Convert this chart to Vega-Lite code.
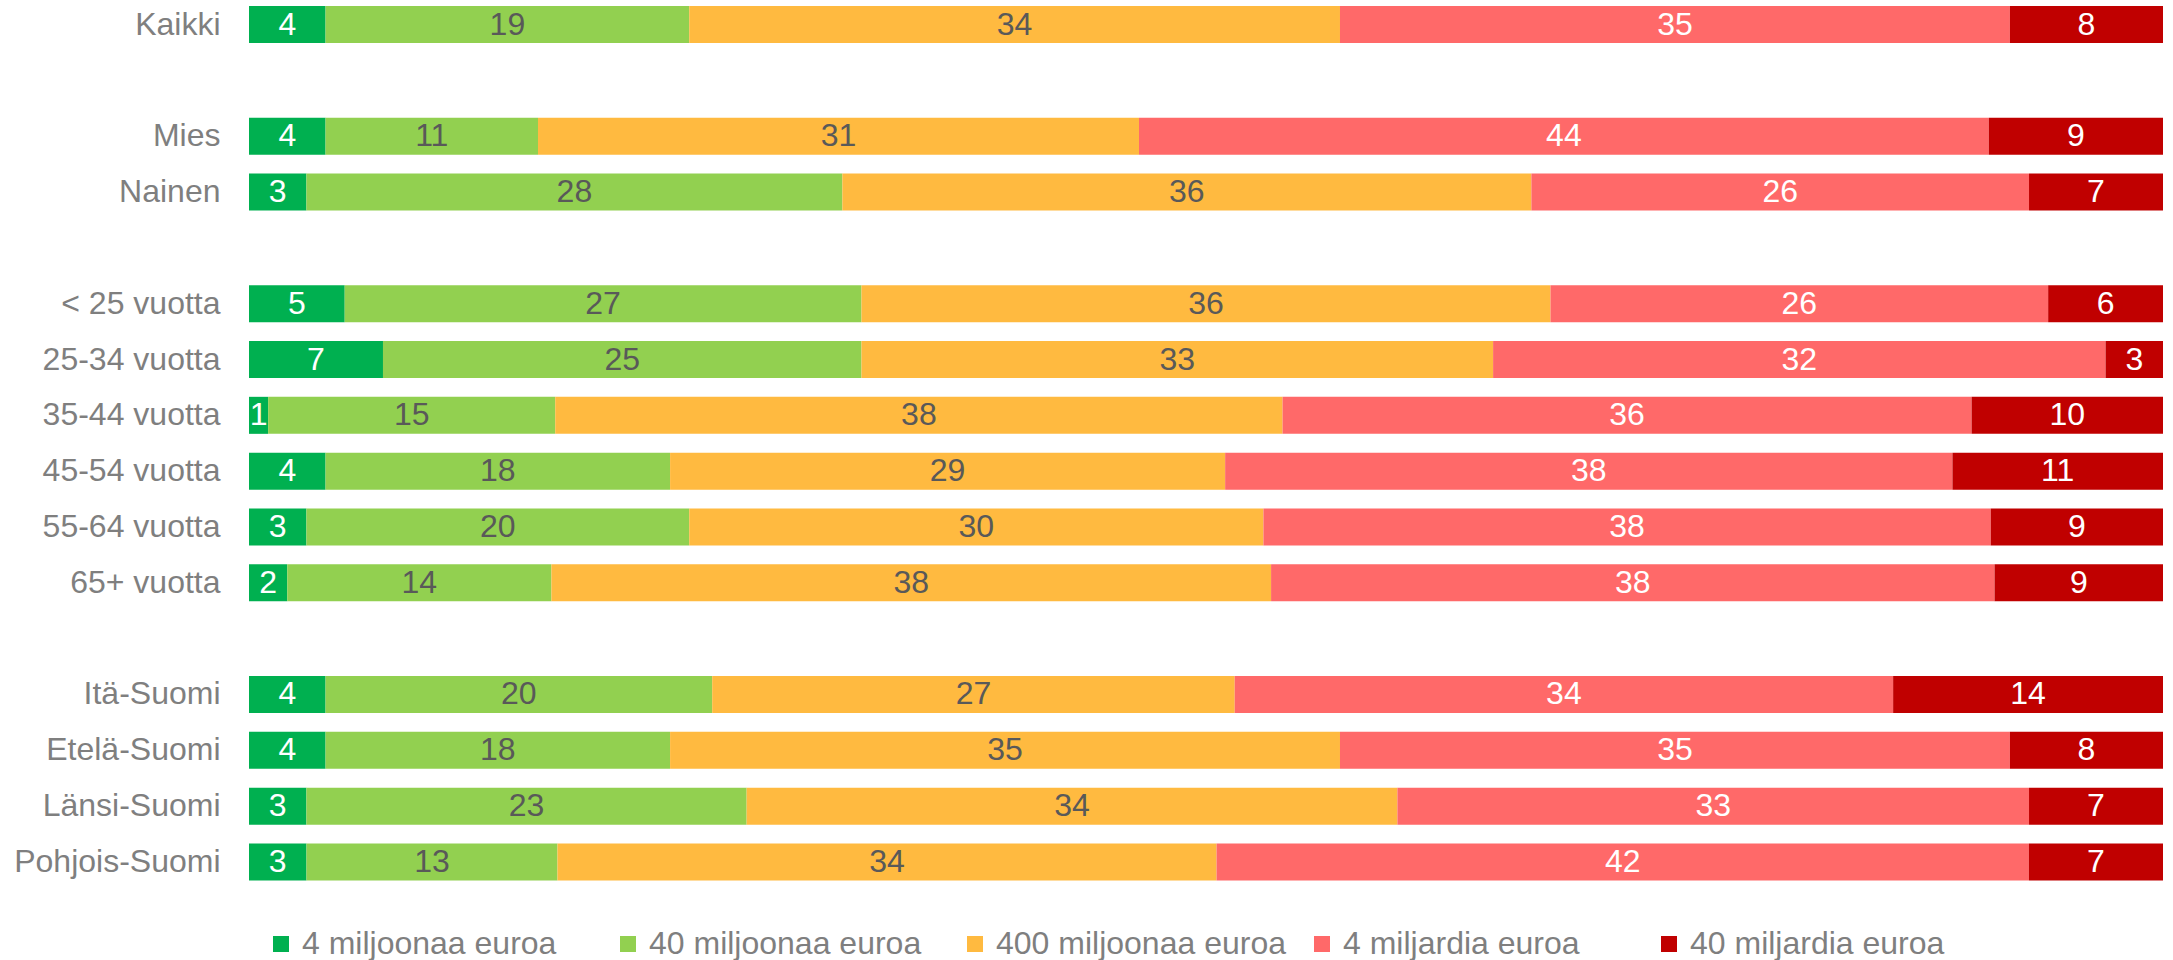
{
  "$schema": "https://vega.github.io/schema/vega-lite/v6.json",
  "autosize": "none",
  "width": 1914,
  "height": 874.5,
  "padding": {"left": 249, "top": 6, "right": 10, "bottom": 80},
  "background": "white",
  "config": {"view": {"stroke": null}, "font": "Liberation Sans"},
  "data": {"values": [
    {"group": "Kaikki", "cat": "4 miljoonaa euroa", "k": 1, "v": 4},
    {"group": "Kaikki", "cat": "40 miljoonaa euroa", "k": 2, "v": 19},
    {"group": "Kaikki", "cat": "400 miljoonaa euroa", "k": 3, "v": 34},
    {"group": "Kaikki", "cat": "4 miljardia euroa", "k": 4, "v": 35},
    {"group": "Kaikki", "cat": "40 miljardia euroa", "k": 5, "v": 8},
    {"group": "Mies", "cat": "4 miljoonaa euroa", "k": 1, "v": 4.0},
    {"group": "Mies", "cat": "40 miljoonaa euroa", "k": 2, "v": 11.1},
    {"group": "Mies", "cat": "400 miljoonaa euroa", "k": 3, "v": 31.4},
    {"group": "Mies", "cat": "4 miljardia euroa", "k": 4, "v": 44.4},
    {"group": "Mies", "cat": "40 miljardia euroa", "k": 5, "v": 9.1},
    {"group": "Nainen", "cat": "4 miljoonaa euroa", "k": 1, "v": 3},
    {"group": "Nainen", "cat": "40 miljoonaa euroa", "k": 2, "v": 28},
    {"group": "Nainen", "cat": "400 miljoonaa euroa", "k": 3, "v": 36},
    {"group": "Nainen", "cat": "4 miljardia euroa", "k": 4, "v": 26},
    {"group": "Nainen", "cat": "40 miljardia euroa", "k": 5, "v": 7},
    {"group": "< 25 vuotta", "cat": "4 miljoonaa euroa", "k": 1, "v": 5},
    {"group": "< 25 vuotta", "cat": "40 miljoonaa euroa", "k": 2, "v": 27},
    {"group": "< 25 vuotta", "cat": "400 miljoonaa euroa", "k": 3, "v": 36},
    {"group": "< 25 vuotta", "cat": "4 miljardia euroa", "k": 4, "v": 26},
    {"group": "< 25 vuotta", "cat": "40 miljardia euroa", "k": 5, "v": 6},
    {"group": "25-34 vuotta", "cat": "4 miljoonaa euroa", "k": 1, "v": 7},
    {"group": "25-34 vuotta", "cat": "40 miljoonaa euroa", "k": 2, "v": 25},
    {"group": "25-34 vuotta", "cat": "400 miljoonaa euroa", "k": 3, "v": 33},
    {"group": "25-34 vuotta", "cat": "4 miljardia euroa", "k": 4, "v": 32},
    {"group": "25-34 vuotta", "cat": "40 miljardia euroa", "k": 5, "v": 3},
    {"group": "35-44 vuotta", "cat": "4 miljoonaa euroa", "k": 1, "v": 1},
    {"group": "35-44 vuotta", "cat": "40 miljoonaa euroa", "k": 2, "v": 15},
    {"group": "35-44 vuotta", "cat": "400 miljoonaa euroa", "k": 3, "v": 38},
    {"group": "35-44 vuotta", "cat": "4 miljardia euroa", "k": 4, "v": 36},
    {"group": "35-44 vuotta", "cat": "40 miljardia euroa", "k": 5, "v": 10},
    {"group": "45-54 vuotta", "cat": "4 miljoonaa euroa", "k": 1, "v": 4},
    {"group": "45-54 vuotta", "cat": "40 miljoonaa euroa", "k": 2, "v": 18},
    {"group": "45-54 vuotta", "cat": "400 miljoonaa euroa", "k": 3, "v": 29},
    {"group": "45-54 vuotta", "cat": "4 miljardia euroa", "k": 4, "v": 38},
    {"group": "45-54 vuotta", "cat": "40 miljardia euroa", "k": 5, "v": 11},
    {"group": "55-64 vuotta", "cat": "4 miljoonaa euroa", "k": 1, "v": 3},
    {"group": "55-64 vuotta", "cat": "40 miljoonaa euroa", "k": 2, "v": 20},
    {"group": "55-64 vuotta", "cat": "400 miljoonaa euroa", "k": 3, "v": 30},
    {"group": "55-64 vuotta", "cat": "4 miljardia euroa", "k": 4, "v": 38},
    {"group": "55-64 vuotta", "cat": "40 miljardia euroa", "k": 5, "v": 9},
    {"group": "65+ vuotta", "cat": "4 miljoonaa euroa", "k": 1, "v": 2.0},
    {"group": "65+ vuotta", "cat": "40 miljoonaa euroa", "k": 2, "v": 13.8},
    {"group": "65+ vuotta", "cat": "400 miljoonaa euroa", "k": 3, "v": 37.6},
    {"group": "65+ vuotta", "cat": "4 miljardia euroa", "k": 4, "v": 37.8},
    {"group": "65+ vuotta", "cat": "40 miljardia euroa", "k": 5, "v": 8.8},
    {"group": "Itä-Suomi", "cat": "4 miljoonaa euroa", "k": 1, "v": 4.0},
    {"group": "Itä-Suomi", "cat": "40 miljoonaa euroa", "k": 2, "v": 20.2},
    {"group": "Itä-Suomi", "cat": "400 miljoonaa euroa", "k": 3, "v": 27.3},
    {"group": "Itä-Suomi", "cat": "4 miljardia euroa", "k": 4, "v": 34.4},
    {"group": "Itä-Suomi", "cat": "40 miljardia euroa", "k": 5, "v": 14.1},
    {"group": "Etelä-Suomi", "cat": "4 miljoonaa euroa", "k": 1, "v": 4},
    {"group": "Etelä-Suomi", "cat": "40 miljoonaa euroa", "k": 2, "v": 18},
    {"group": "Etelä-Suomi", "cat": "400 miljoonaa euroa", "k": 3, "v": 35},
    {"group": "Etelä-Suomi", "cat": "4 miljardia euroa", "k": 4, "v": 35},
    {"group": "Etelä-Suomi", "cat": "40 miljardia euroa", "k": 5, "v": 8},
    {"group": "Länsi-Suomi", "cat": "4 miljoonaa euroa", "k": 1, "v": 3},
    {"group": "Länsi-Suomi", "cat": "40 miljoonaa euroa", "k": 2, "v": 23},
    {"group": "Länsi-Suomi", "cat": "400 miljoonaa euroa", "k": 3, "v": 34},
    {"group": "Länsi-Suomi", "cat": "4 miljardia euroa", "k": 4, "v": 33},
    {"group": "Länsi-Suomi", "cat": "40 miljardia euroa", "k": 5, "v": 7},
    {"group": "Pohjois-Suomi", "cat": "4 miljoonaa euroa", "k": 1, "v": 3.0},
    {"group": "Pohjois-Suomi", "cat": "40 miljoonaa euroa", "k": 2, "v": 13.1},
    {"group": "Pohjois-Suomi", "cat": "400 miljoonaa euroa", "k": 3, "v": 34.4},
    {"group": "Pohjois-Suomi", "cat": "4 miljardia euroa", "k": 4, "v": 42.4},
    {"group": "Pohjois-Suomi", "cat": "40 miljardia euroa", "k": 5, "v": 7.0}
  ]},
  "encoding": {
    "y": {
      "field": "group", "type": "nominal",
      "scale": {
        "domain": ["Kaikki", " ", "Mies", "Nainen", "  ", "< 25 vuotta", "25-34 vuotta", "35-44 vuotta", "45-54 vuotta", "55-64 vuotta", "65+ vuotta", "   ", "Itä-Suomi", "Etelä-Suomi", "Länsi-Suomi", "Pohjois-Suomi"],
        "paddingInner": 0.337, "paddingOuter": 0
      },
      "axis": {"title": null, "domain": false, "ticks": false, "labelFontSize": 32, "labelColor": "#7f7f7f", "labelPadding": 29, "labelFont": "Liberation Sans", "labelLimit": 400}
    },
    "x": {
      "field": "v", "type": "quantitative", "stack": "normalize",
      "scale": {"nice": false, "padding": 0},
      "axis": null
    },
    "order": {"field": "k", "type": "quantitative"}
  },
  "layer": [
    {
      "mark": {"type": "bar"},
      "encoding": {
        "color": {
          "field": "cat", "type": "nominal",
          "scale": {
            "domain": ["4 miljoonaa euroa", "40 miljoonaa euroa", "400 miljoonaa euroa", "4 miljardia euroa", "40 miljardia euroa"],
            "range": ["#00B050", "#92D050", "#FFBA40", "#FF6969", "#C00000"]
          },
          "legend": {
            "title": null, "orient": "none", "direction": "horizontal", "columns": 5,
            "legendX": 16, "legendY": 922,
            "gridAlign": "all", "columnPadding": 20,
            "symbolType": "square", "symbolSize": 256, "symbolStrokeWidth": 0,
            "labelFontSize": 32, "labelColor": "#7f7f7f", "labelFont": "Liberation Sans", "labelOffset": 5,
            "labelLimit": 400
          }
        }
      }
    },
    {
      "mark": {"type": "text", "fontSize": 32, "font": "Liberation Sans", "baseline": "middle", "align": "center"},
      "encoding": {
        "x": {"field": "v", "type": "quantitative", "stack": "normalize", "bandPosition": 0.5},
        "text": {"field": "v", "type": "quantitative", "format": ".0f"},
        "color": {
          "condition": {"test": "datum.k == 2 || datum.k == 3", "value": "#595959"},
          "value": "white"
        }
      }
    }
  ]
}
